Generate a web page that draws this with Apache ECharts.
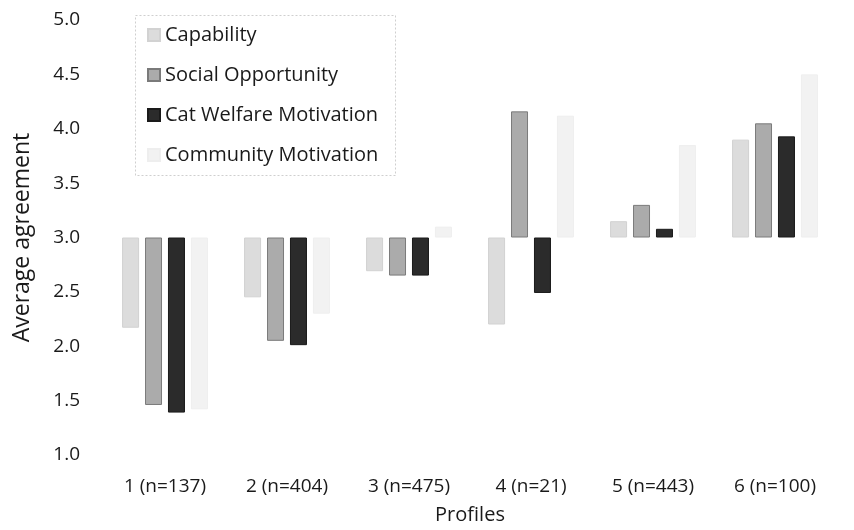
<!DOCTYPE html>
<html>
<head>
<meta charset="utf-8">
<script src="https://cdn.jsdelivr.net/npm/echarts@6/dist/echarts.min.js"></script>
<style>html,body{margin:0;padding:0;background:#fff}#c{width:854px;height:530px}</style>
</head>
<body>
<div id="c"></div>
<script>
var categories = ['1 (n=137)', '2 (n=404)', '3 (n=475)', '4 (n=21)', '5 (n=443)', '6 (n=100)'];
var seriesNames = ['Capability', 'Social Opportunity', 'Cat Welfare Motivation', 'Community Motivation'];
var capability = [2.17, 2.45, 2.69, 2.20, 3.15, 3.90];
var socialOpportunity = [1.46, 2.05, 2.65, 4.16, 3.30, 4.05];
var catWelfare = [1.39, 2.01, 2.65, 2.49, 3.08, 3.93];
var communityMotivation = [1.42, 2.30, 3.10, 4.12, 3.85, 4.50];
var baseline = 3.0;

var colors = ['#dcdcdc', '#ababab', '#2b2b2b', '#f2f2f2'];
var borders = ['#d2d2d2', '#7a7a7a', '#1a1a1a', '#eeeeee'];
var allData = [capability, socialOpportunity, catWelfare, communityMotivation];
var FONT = 'Open Sans';

var chart = echarts.init(document.getElementById('c'), null, {renderer: 'canvas'});
var series = allData.map(function (arr, i) {
  return {
    name: seriesNames[i],
    type: 'bar',
    barWidth: 17,
    barGap: '35%',
    data: arr.map(function (v) { return +(v - baseline).toFixed(3); }),
    itemStyle: { color: colors[i], borderColor: borders[i], borderWidth: 1 }
  };
});

chart.setOption({
  animation: false,
  backgroundColor: '#fff',
  textStyle: { fontFamily: FONT },
  grid: { left: 104, right: 18, top: 20, bottom: 70, containLabel: false },
  legend: {
    orient: 'vertical',
    left: 142, top: 20,
    itemWidth: 12, itemHeight: 12, itemGap: 20,
    icon: 'rect',
    data: seriesNames,
    textStyle: { fontFamily: FONT, fontSize: 20, color: '#1a1a1a' }
  },
  graphic: [{
    type: 'rect', left: 135, top: 15, z: 0,
    shape: { width: 260, height: 160 },
    style: { fill: 'rgba(0,0,0,0)', stroke: '#cfcfcf', lineWidth: 1, lineDash: [2, 2] }
  }],
  xAxis: {
    type: 'category',
    data: categories,
    axisLine: { show: false },
    axisTick: { show: false },
    axisLabel: { margin: 22, fontSize: 19, color: '#1a1a1a', fontFamily: FONT },
    name: 'Profiles',
    nameLocation: 'middle',
    nameGap: 50,
    nameTextStyle: { fontSize: 20, color: '#1a1a1a', fontFamily: FONT }
  },
  yAxis: {
    type: 'value',
    min: -2, max: 2, interval: 0.5,
    splitLine: { show: false },
    axisLine: { show: false },
    axisTick: { show: false },
    axisLabel: {
      margin: 24, fontSize: 19, color: '#1a1a1a', fontFamily: FONT,
      formatter: function (v) { return (v + baseline).toFixed(1); }
    },
    name: 'Average agreement',
    nameLocation: 'middle',
    nameGap: 70,
    nameTextStyle: { fontSize: 23, color: '#1a1a1a', fontFamily: FONT }
  },
  series: series
});
</script>
</body>
</html>
